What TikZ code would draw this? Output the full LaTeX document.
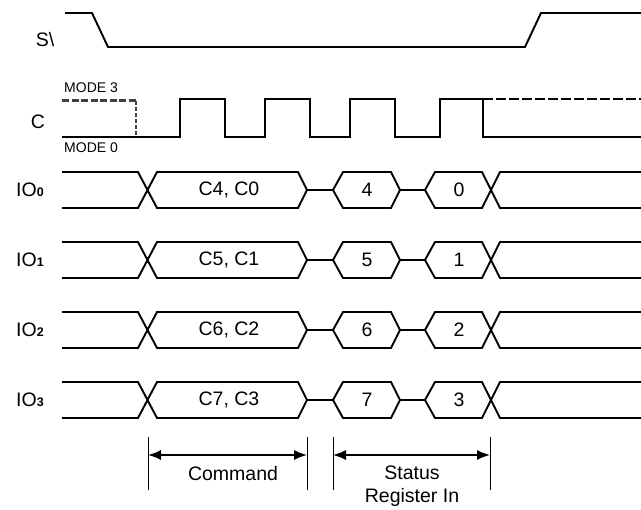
\documentclass[tikz,border=0pt]{standalone}
\usepackage{fontspec}
\setmainfont{Liberation Sans}
\usetikzlibrary{arrows.meta}
\begin{document}
\begin{tikzpicture}[x=1pt,y=-1pt,
 sig/.style={line width=1.9pt, line join=miter},
 dshblk/.style={line width=1.9pt, dash pattern=on 10pt off 3pt},
 dshgray/.style={line width=3pt, draw=black!75, dash pattern=on 7pt off 2.5pt},
 lbl/.style={font=\fontsize{19.5}{21}\selectfont, inner sep=0pt},
 smalllbl/.style={font=\fontsize{14}{16}\selectfont, inner sep=0pt},
 tickline/.style={line width=0.8pt},
 dimline/.style={line width=1.5pt, {Latex[length=13pt,width=10pt]}-{Latex[length=13pt,width=10pt]}}]
\useasboundingbox (0,0) rectangle (641,510);

% S
\node[lbl] (slbl) at (45,40) {S\textbackslash};
\draw[sig] (65,13) -- (92,13) -- (108,47) -- (525,47) -- (541,13) -- (641,13);

% C
\node[lbl] (clbl) at (38,122) {C};
\node[smalllbl, anchor=west] (m3) at (64,88) {MODE 3};
\node[smalllbl, anchor=west] (m0) at (64,148) {MODE 0};
\draw[dshgray] (62,101) -- (136,101);
\draw[dshgray, line width=2pt, dash pattern=on 4pt off 2pt] (136,101) -- (136,137);
\draw[sig] (62,137) -- (180,137) -- (180,99) -- (225,99) -- (225,137)
  -- (265,137) -- (265,99) -- (310,99) -- (310,137)
  -- (350,137) -- (350,99) -- (395,99) -- (395,137)
  -- (440,137) -- (440,99) -- (483,99) -- (483,137) -- (641,137);
\draw[dshblk] (483,99) -- (641,99);

% IO rows
\foreach \y/\n/\a/\b/\c/\d in {190/0/C4/C0/4/0, 260/1/C5/C1/5/1, 330/2/C6/C2/6/2, 400/3/C7/C3/7/3}{
  \node[lbl, anchor=base west] (io\n) at (16,\y+7) {IO\textbf{\fontsize{12.5}{12}\selectfont \n}};
  \draw[sig] (62,\y-18) -- (138,\y-18) -- (157,\y+18) -- (298,\y+18) -- (307,\y)
     -- (298,\y-18) -- (157,\y-18) -- (138,\y+18) -- (62,\y+18);
  \draw[sig] (307,\y) -- (333,\y) -- (343,\y-18) -- (391,\y-18) -- (400,\y)
     -- (391,\y+18) -- (343,\y+18) -- (333,\y);
  \draw[sig] (400,\y) -- (425,\y) -- (435,\y-18) -- (482,\y-18) -- (500,\y+18) -- (641,\y+18);
  \draw[sig] (425,\y) -- (435,\y+18) -- (482,\y+18) -- (500,\y-18) -- (641,\y-18);
  \node[lbl] (cmd\n) at (229,\y) {\a, \b};
  \node[lbl] (hi\n) at (367,\y) {\c};
  \node[lbl] (lo\n) at (459,\y) {\d};
}

% dimensions
\coordinate (t1a) at (148,437); \coordinate (t1b) at (148,490);
\coordinate (t2a) at (307,437); \coordinate (t2b) at (307,490);
\coordinate (t3a) at (333,437); \coordinate (t3b) at (333,490);
\coordinate (t4a) at (490,437); \coordinate (t4b) at (490,490);
\draw[tickline] (t1a) -- (t1b);
\draw[tickline] (t2a) -- (t2b);
\draw[tickline] (t3a) -- (t3b);
\draw[tickline] (t4a) -- (t4b);
\coordinate (a1) at (148,455); \coordinate (a2) at (307,455);
\coordinate (a3) at (333,455); \coordinate (a4) at (490,455);
\draw[dimline] (a1) -- (a2);
\draw[dimline] (a3) -- (a4);
\node[lbl] (command) at (233,474) {Command};
\node[lbl] (status) at (412,473) {Status};
\node[lbl] (reg) at (412,497) {Register In};
\end{tikzpicture}
\end{document}
